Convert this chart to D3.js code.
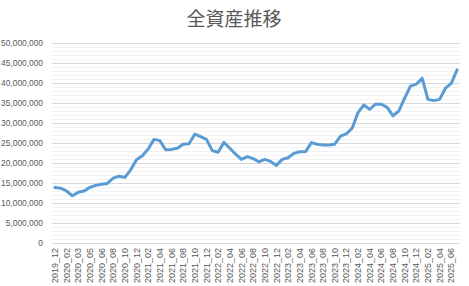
<!DOCTYPE html>
<html><head><meta charset="utf-8">
<script src="https://cdn.jsdelivr.net/npm/d3@7"></script>
<style>body{margin:0;background:#fff}svg{display:block}</style>
</head><body><svg id="c" width="469" height="286"></svg>
<script>
const title = "全資産推移";
const categories = ["2019_12","2020_01","2020_02","2020_02","2020_03","2020_04","2020_05","2020_05","2020_06","2020_07",
"2020_08","2020_09","2020_10","2020_11","2020_12","2021_01","2021_02","2021_03","2021_04","2021_05",
"2021_06","2021_07","2021_08","2021_09","2021_10","2021_11","2021_12","2022_01","2022_02","2022_03",
"2022_04","2022_05","2022_06","2022_07","2022_08","2022_09","2022_10","2022_11","2022_12","2023_01",
"2023_02","2023_03","2023_04","2023_05","2023_06","2023_07","2023_08","2023_09","2023_10","2023_11",
"2023_12","2024_01","2024_02","2024_03","2024_04","2024_05","2024_06","2024_07","2024_08","2024_09",
"2024_10","2024_11","2024_12","2025_01","2025_02","2025_03","2025_04","2025_05","2025_06","2025_07"];
const values = [13.9,13.7,13.0,11.8,12.7,13.0,13.9,14.4,14.7,14.9,
16.2,16.7,16.4,18.3,20.8,21.8,23.5,25.9,25.6,23.3,
23.4,23.7,24.7,24.8,27.2,26.6,25.9,23.1,22.7,25.2,
23.7,22.2,20.9,21.6,21.1,20.3,20.9,20.4,19.4,20.9,
21.3,22.4,22.8,22.8,25.1,24.7,24.5,24.5,24.7,26.7,
27.3,28.7,32.6,34.5,33.4,34.7,34.7,33.9,31.8,33.0,
36.2,39.2,39.7,41.2,35.9,35.6,35.9,38.7,39.9,43.3].map(v => v * 1e6);
const yTicks = [0,5e6,10e6,15e6,20e6,25e6,30e6,35e6,40e6,45e6,50e6];
const yMinorTicks = d3.range(0, 50e6 + 1, 1e6);

const svg = d3.select("#c");
const L = 52, R = 460, T = 43, B = 243;
const x = d3.scaleBand().domain(d3.range(categories.length)).range([L, R]);
const y = d3.scaleLinear().domain([0, 50e6]).range([B, T]);

// minor gridlines
svg.append("g").selectAll("line").data(yMinorTicks.filter(v => v % 5e6 !== 0)).join("line")
  .attr("x1", L).attr("x2", R).attr("y1", d => Math.round(y(d)) + 0.5).attr("y2", d => Math.round(y(d)) + 0.5)
  .attr("stroke", "#f2f2f2").attr("stroke-width", 1);
// major gridlines
svg.append("g").selectAll("line").data(yTicks).join("line")
  .attr("x1", L).attr("x2", R).attr("y1", d => Math.round(y(d)) + 0.5).attr("y2", d => Math.round(y(d)) + 0.5)
  .attr("stroke", "#d9d9d9").attr("stroke-width", 1);

// y axis labels
const yAxis = d3.axisLeft(y).tickValues(yTicks).tickSize(0).tickPadding(0)
  .tickFormat(d => d3.format(",")(d));
const gy = svg.append("g").attr("transform", `translate(${L - 9},0)`).call(yAxis);
gy.select(".domain").remove();
gy.selectAll("text").attr("fill", "#595959").attr("font-family", "Liberation Sans, Arial, sans-serif")
  .attr("font-size", "8.4px");

// x axis labels
const xAxis = d3.axisBottom(x).tickValues(d3.range(0, categories.length, 2)).tickSize(0).tickPadding(0)
  .tickFormat(i => categories[i]);
const gx = svg.append("g").attr("transform", `translate(0,${B})`).call(xAxis);
gx.select(".domain").remove();
gx.selectAll("text").attr("fill", "#595959").attr("font-family", "Liberation Sans, Arial, sans-serif")
  .attr("font-size", "9px").attr("text-anchor", "end")
  .attr("transform", "translate(0,5) rotate(-90)").attr("dx", "0").attr("dy", "0.35em").attr("y", 0).attr("x", 0);

// line
const line = d3.line().x((d, i) => x(i) + x.bandwidth() / 2).y(d => y(d));
svg.append("path").datum(values).attr("d", line).attr("fill", "none")
  .attr("stroke", "#5b9bd5").attr("stroke-width", 3).attr("stroke-linejoin", "round").attr("stroke-linecap", "round");

// title
svg.append("text").attr("x", 234).attr("y", 26).attr("text-anchor", "middle")
  .attr("font-family", "Noto Sans CJK JP, sans-serif").attr("font-size", "19px").attr("fill", "#595959")
  .text(title);
</script></body></html>
